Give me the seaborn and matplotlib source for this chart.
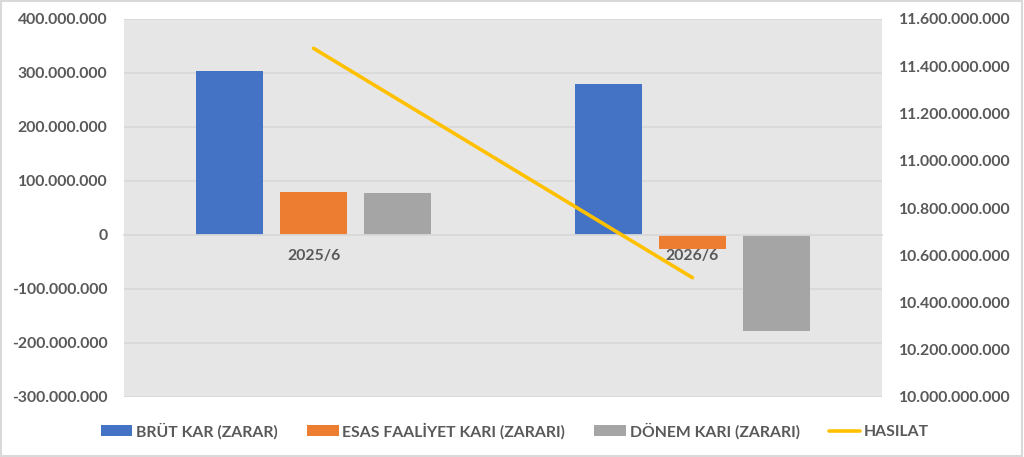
import pandas as pd
import numpy as np
import matplotlib
matplotlib.use("Agg")
import matplotlib.pyplot as plt
import matplotlib.ticker as mticker
from matplotlib.patches import Rectangle
import seaborn as sns

# data
periods = ["2025/6", "2026/6"]
brut_kar = [303_000_000, 279_000_000]
esas_faaliyet = [79_000_000, -26_000_000]
donem_kari = [77_000_000, -177_000_000]
hasilat = [11_476_000_000, 10_505_000_000]

series_names = ["BRÜT KAR (ZARAR)", "ESAS FAALİYET KARI (ZARARI)", "DÖNEM KARI (ZARARI)"]
bar_colors = ["#4472C4", "#ED7D31", "#A5A5A5"]
line_color = "#FFC000"
text_color = "#595959"
grid_color = "#D9D9D9"
fsize = 11.3

df = pd.DataFrame({
    "donem": periods * 3,
    "kalem": [n for n in series_names for _ in periods],
    "deger": brut_kar + esas_faaliyet + donem_kari,
})

sns.set_theme(style="white")
plt.rcParams["font.family"] = ["Lato", "DejaVu Sans"]
plt.rcParams["font.weight"] = "bold"
plt.rcParams["font.size"] = fsize

fig = plt.figure(figsize=(10.24, 4.57), dpi=100)
ax = fig.add_axes([124 / 1024, 1 - 397 / 457, (882 - 124) / 1024, (397 - 19) / 457])
ax.set_facecolor("#E7E6E6")

sns.barplot(data=df, x="donem", y="deger", hue="kalem", palette=bar_colors,
            saturation=1, errorbar=None, width=0.664, gap=0.21, linewidth=0, ax=ax)
bar_handles, bar_labels = ax.get_legend_handles_labels()
if ax.get_legend() is not None:
    ax.get_legend().remove()

ax.set_xlim(-0.5, len(periods) - 0.5)
ax.set_ylim(-300_000_000, 400_000_000)
ax.yaxis.set_major_locator(mticker.MultipleLocator(100_000_000))
fmt = mticker.FuncFormatter(lambda v, p: f"{v:,.0f}".replace(",", "."))
ax.yaxis.set_major_formatter(fmt)
ax.yaxis.grid(True, color=grid_color, lw=1.3)
ax.set_axisbelow(True)
ax.set_xlabel("")
ax.set_ylabel("")

for s in ["top", "left", "right"]:
    ax.spines[s].set_visible(False)
ax.spines["bottom"].set_position(("data", 0))
ax.spines["bottom"].set_color(grid_color)
ax.spines["bottom"].set_linewidth(1.3)
ax.tick_params(axis="x", length=0, pad=10, labelsize=fsize, labelcolor=text_color)
ax.set_xticks(np.arange(-0.5, len(periods)), minor=True)
ax.tick_params(axis="x", which="minor", length=5, width=1.3, color=grid_color, direction="out")
ax.tick_params(axis="y", length=0, pad=12, labelsize=fsize, labelcolor=text_color)
for lbl in ax.get_xticklabels() + ax.get_yticklabels():
    lbl.set_fontweight("bold")

ax2 = ax.twinx()
sns.lineplot(x=np.arange(len(periods)), y=hasilat, color=line_color, lw=2.6,
             ax=ax2, label="HASILAT")
line_handles, line_labels = ax2.get_legend_handles_labels()
if ax2.get_legend() is not None:
    ax2.get_legend().remove()
ax2.set_ylim(10_000_000_000, 11_600_000_000)
ax2.yaxis.set_major_locator(mticker.MultipleLocator(200_000_000))
ax2.yaxis.set_major_formatter(fmt)
ax2.tick_params(axis="y", length=0, pad=12, labelsize=fsize, labelcolor=text_color)
for lbl in ax2.get_yticklabels():
    lbl.set_fontweight("bold")
for s in ["top", "left", "right", "bottom"]:
    ax2.spines[s].set_visible(False)
ax2.set_ylabel("")
ax2.grid(False)

leg = fig.legend(bar_handles + line_handles, bar_labels + line_labels,
                 loc="center", bbox_to_anchor=(0.503, 1 - 431 / 457), ncol=4,
                 frameon=False, prop={"size": fsize, "weight": "bold"},
                 handlelength=2.0, handletextpad=0.25, columnspacing=1.85)
for t in leg.get_texts():
    t.set_color(text_color)

fig.patches.append(Rectangle((0.001, 0.002), 0.997, 0.995, transform=fig.transFigure,
                             fill=False, edgecolor=grid_color, lw=1.5))

fig.savefig("out.png", dpi=100, facecolor="white")
